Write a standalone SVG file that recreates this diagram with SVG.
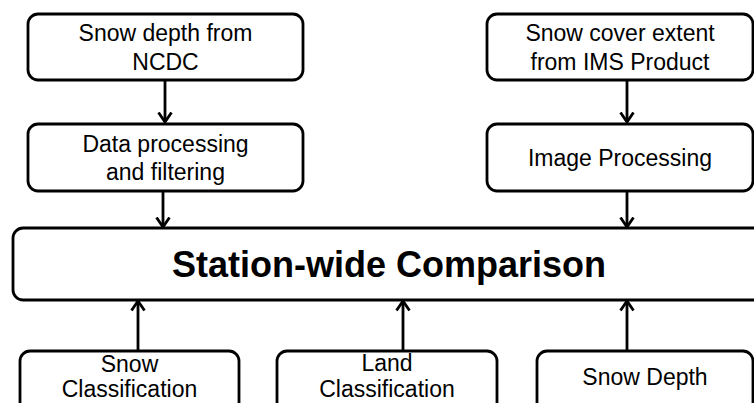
<svg xmlns="http://www.w3.org/2000/svg" width="754" height="403" viewBox="0 0 754 403">
<style>
.box{fill:#fff;stroke:#000;stroke-width:2.8}
.t{font-family:"Liberation Sans",Arial,sans-serif;font-size:23px;fill:#000;text-anchor:middle}
.big{font-family:"Liberation Sans",Arial,sans-serif;font-size:36px;font-weight:bold;fill:#000;text-anchor:middle}
.c{stroke:#000;stroke-width:2.8;fill:none}
</style>
<defs>
<marker id="ah" markerUnits="userSpaceOnUse" viewBox="0 0 12 16" refX="10.5" refY="8" markerWidth="12" markerHeight="16" orient="auto">
<path d="M1,1.5 L10.5,8 L1,14.5" fill="none" stroke="#000" stroke-width="2.8"/>
</marker>
</defs>
<rect width="754" height="403" fill="#fff"/>
<g id="connectors">
<line class="c" x1="165" y1="80" x2="165" y2="122" marker-end="url(#ah)"/>
<line class="c" x1="163" y1="191" x2="163" y2="227" marker-end="url(#ah)"/>
<line class="c" x1="627" y1="80" x2="627" y2="122" marker-end="url(#ah)"/>
<line class="c" x1="627" y1="191" x2="627" y2="227" marker-end="url(#ah)"/>
<line class="c" x1="138" y1="351" x2="138" y2="301" marker-end="url(#ah)"/>
<line class="c" x1="403" y1="351" x2="403" y2="301" marker-end="url(#ah)"/>
<line class="c" x1="627" y1="351" x2="627" y2="301" marker-end="url(#ah)"/>
</g>
<g id="ncdc">
<rect class="box" x="28" y="14" width="275" height="66" rx="10"/>
<text class="t" x="165.5" y="41">Snow depth from</text>
<text class="t" x="165.5" y="70">NCDC</text>
</g>
<g id="dataproc">
<rect class="box" x="28" y="124" width="275" height="67" rx="10"/>
<text class="t" x="165.5" y="152">Data processing</text>
<text class="t" x="165.5" y="180">and filtering</text>
</g>
<g id="ims">
<rect class="box" x="487" y="14" width="266" height="66" rx="10"/>
<text class="t" x="620" y="41">Snow cover extent</text>
<text class="t" x="620" y="70">from IMS Product</text>
</g>
<g id="imgproc">
<rect class="box" x="487" y="124" width="266" height="67" rx="10"/>
<text class="t" x="620" y="166">Image Processing</text>
</g>
<g id="comparison">
<rect class="box" x="13" y="228" width="770" height="72" rx="10"/>
<text class="big" x="389" y="277">Station-wide Comparison</text>
</g>
<g id="snowclass">
<rect class="box" x="20" y="351" width="219" height="70" rx="10"/>
<text class="t" x="129.5" y="372">Snow</text>
<text class="t" x="129.5" y="397">Classification</text>
</g>
<g id="landclass">
<rect class="box" x="277" y="351" width="220" height="70" rx="10"/>
<text class="t" x="387" y="371">Land</text>
<text class="t" x="387" y="397">Classification</text>
</g>
<g id="snowdepth">
<rect class="box" x="537" y="351" width="216" height="70" rx="10"/>
<text class="t" x="645" y="385">Snow Depth</text>
</g>
</svg>
